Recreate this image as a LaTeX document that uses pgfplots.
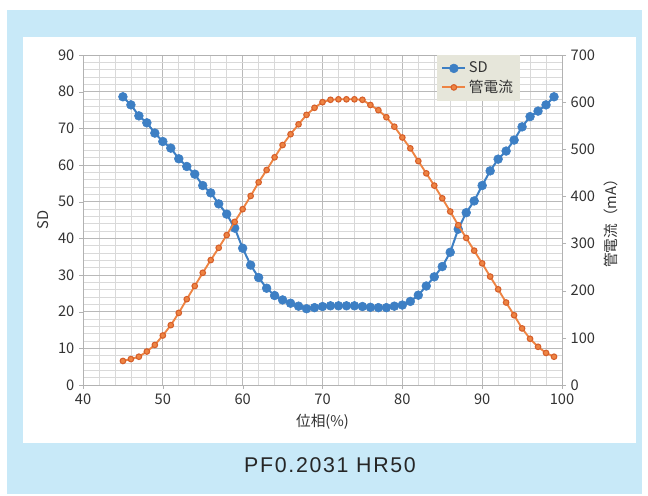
\documentclass[border=0pt]{standalone}
\usepackage{fontspec}
\setmainfont{Noto Sans CJK JP}
\newfontfamily\titlefont[LetterSpace=8]{Liberation Sans}
\usepackage{pgfplots}
\usepackage{pgfplotstable}
\pgfplotsset{compat=1.18}

\definecolor{bgblue}{HTML}{C8E9F8}
\definecolor{sdblue}{HTML}{3D7FC4}
\definecolor{curorange}{HTML}{EE8443}
\definecolor{curmark}{HTML}{D65F2A}
\definecolor{legbg}{HTML}{E6E6DA}
\definecolor{txt}{HTML}{333333}

\pgfplotstableread{
x sd
45 78.6
46 76.4
47 73.4
48 71.5
49 68.7
50 66.4
51 64.6
52 61.7
53 59.6
54 57.5
55 54.4
56 52.4
57 49.4
58 46.6
59 42.8
60 37.3
61 32.7
62 29.3
63 26.4
64 24.4
65 23.2
66 22.3
67 21.5
68 20.8
69 21.1
70 21.4
71 21.6
72 21.6
73 21.6
74 21.6
75 21.4
76 21.2
77 21.1
78 21.1
79 21.5
80 21.8
81 22.8
82 24.5
83 27.0
84 29.5
85 32.3
86 36.2
87 42.5
88 47.0
89 50.2
90 54.4
91 58.4
92 61.6
93 63.8
94 66.8
95 70.4
96 73.2
97 74.7
98 76.4
99 78.6
}\sdtable

\pgfplotstableread{
x ma
45 51
46 55
47 60
48 71
49 85
50 105
51 127
52 153
53 182
54 210
55 238
56 265
57 291
58 318
59 346
60 373
61 401
62 430
63 456
64 483
65 509
66 532
67 553
68 573
69 588
70 600
71 605
72 606
73 606
74 606
75 605
76 594
77 583
78 568
79 548
80 525
81 502
82 475
83 449
84 423
85 396
86 368
87 339
88 312
89 285
90 258
91 230
92 203
93 175
94 148
95 120
96 98
97 81
98 68
99 60
}\matable

\pgfplotsset{
  sdstyle/.style={color=sdblue, line width=1.5pt, mark=*, mark size=3.3pt,
    mark options={fill=sdblue, draw=sdblue, line width=0.4pt}},
  mastyle/.style={color=curorange, line width=1.4pt, mark=*, mark size=2.1pt,
    mark options={fill=curorange, draw=curmark, line width=0.8pt}},
  common/.style={
    scale only axis, width=359.25pt, height=247.5pt,
    at={(62.25pt,82.5pt)}, anchor=south west,
    xmin=40, xmax=100,
    tick label style={font=\fontsize{11}{13}\selectfont, text=txt},
    label style={font=\fontsize{11}{13}\selectfont, text=txt},
    /pgf/number format/assume math mode=true,
    axis line style={draw=gray!60},
    tick style={draw=gray!60},
    tick align=outside, major tick length=3pt,
  },
}

\begin{document}
\begin{tikzpicture}
\fill[white] (0,0) rectangle (486pt,371.25pt);
\fill[bgblue] (5.25pt,0.75pt) rectangle (481.5pt,363.75pt);
\fill[white] (17.25pt,39pt) rectangle (477pt,343.5pt);
\node[text=black!85, font=\titlefont\fontsize{16}{19}\selectfont] at (247.5pt,22.5pt) {PF0.2031 HR50};

\begin{axis}[common,
  ymin=0, ymax=90,
  xtick={40,50,...,100}, ytick={0,10,...,90},
  minor x tick num=4, minor y tick num=4,
  grid=both,
  major grid style={draw=gray!55, line width=0.7pt},
  minor grid style={draw=gray!30, line width=0.6pt},
  minor tick length=0pt,
  xtick pos=bottom, ytick pos=left,
  xlabel={位相(\%)}, ylabel={SD},
]
\addplot[sdstyle] table[x=x, y=sd] {\sdtable};
\end{axis}

\begin{axis}[common,
  axis x line=none, axis y line*=right,
  ymin=0, ymax=700, ytick={0,100,...,700},
  ylabel={管電流（mA）},
  legend style={at={(0.912,1)}, anchor=north east, fill=legbg, draw=none,
    font=\fontsize{11}{13}\selectfont, text=txt, inner sep=3pt},
  legend cell align=left,
]
\addlegendimage{sdstyle}
\addlegendentry{SD}
\addplot[mastyle] table[x=x, y=ma] {\matable};
\addlegendentry{管電流}
\end{axis}
\end{tikzpicture}
\end{document}
